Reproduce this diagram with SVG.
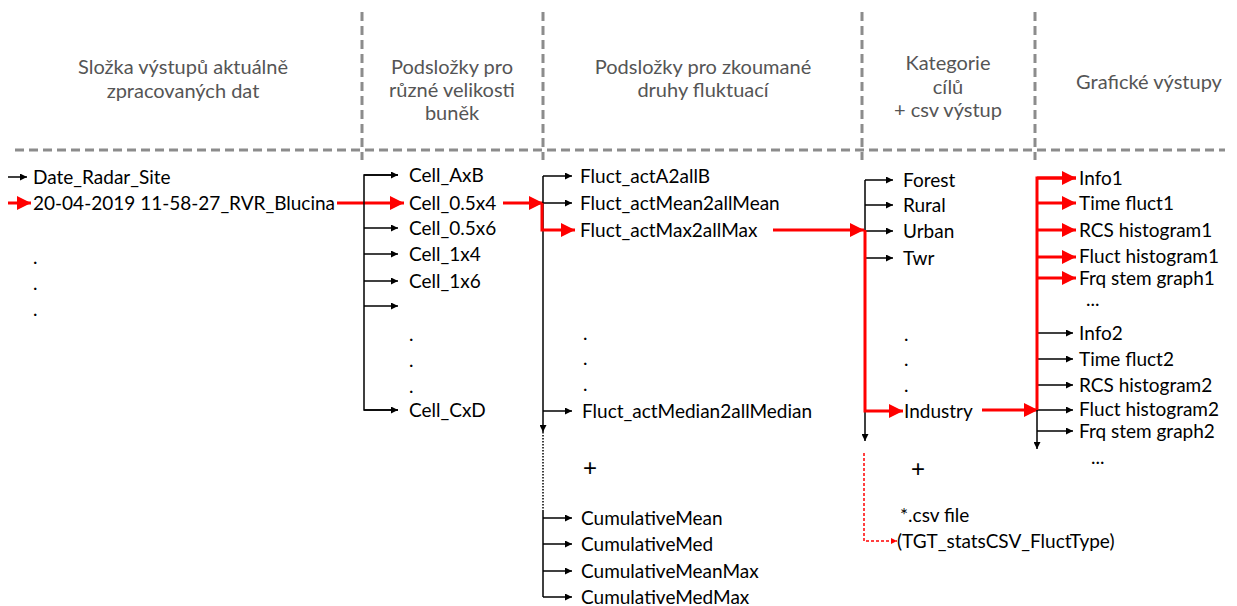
<svg xmlns="http://www.w3.org/2000/svg" width="1237" height="606" viewBox="0 0 1237 606">
  <style>
    .hdr { font-family: Lato, "Liberation Sans", sans-serif; font-size: 20px; fill: #555; text-anchor: middle; }
    .lbl { font-family: Lato, "Liberation Sans", sans-serif; font-size: 19px; fill: #000; }
    .plus { font-family: "Liberation Sans", sans-serif; font-size: 24px; fill: #000; }
    .grid { stroke: #8c8c8c; stroke-width: 3; stroke-dasharray: 9 5; fill: none; }
    .blk { stroke: #000; stroke-width: 1.5; fill: none; }
    .red { stroke: #ff0000; stroke-width: 3; fill: none; }
    .redthin { stroke: #ff0000; stroke-width: 1.5; fill: none; stroke-dasharray: 3 2; }
  </style>
  <defs>
    <marker id="ab" viewBox="0 0 10 10" refX="10" refY="5" markerWidth="8" markerHeight="7" markerUnits="userSpaceOnUse" orient="auto">
      <path d="M0,0 L10,5 L0,10 Z" fill="#000"/>
    </marker>
    <marker id="ar" viewBox="0 0 10 10" refX="10" refY="5" markerWidth="16" markerHeight="14" markerUnits="userSpaceOnUse" orient="auto">
      <path d="M0,0 L10,5 L0,10 Z" fill="#ff0000"/>
    </marker>
    <marker id="ars" viewBox="0 0 10 10" refX="10" refY="5" markerWidth="7" markerHeight="6" markerUnits="userSpaceOnUse" orient="auto">
      <path d="M0,0 L10,5 L0,10 Z" fill="#ff0000"/>
    </marker>
  </defs>

  <!-- column grid -->
  <g id="grid">
    <line class="grid" x1="15" y1="150" x2="1225" y2="150"/>
    <line class="grid" x1="362" y1="12" x2="362" y2="160"/>
    <line class="grid" x1="543" y1="12" x2="543" y2="160"/>
    <line class="grid" x1="862" y1="12" x2="862" y2="160"/>
    <line class="grid" x1="1035" y1="12" x2="1035" y2="160"/>
  </g>

  <!-- column headings -->
  <g id="headers">
    <text class="hdr" x="183" y="74">Složka výstupů aktuálně</text>
    <text class="hdr" x="183" y="98">zpracovaných dat</text>
    <text class="hdr" x="452" y="74">Podsložky pro</text>
    <text class="hdr" x="452" y="97">různé velikosti</text>
    <text class="hdr" x="452" y="120">buněk</text>
    <text class="hdr" x="703" y="74">Podsložky pro zkoumané</text>
    <text class="hdr" x="703" y="97">druhy fluktuací</text>
    <text class="hdr" x="948" y="70">Kategorie</text>
    <text class="hdr" x="948" y="94">cílů</text>
    <text class="hdr" x="948" y="117">+ csv výstup</text>
    <text class="hdr" x="1149" y="89">Grafické výstupy</text>
  </g>

  <!-- connectors -->
  <g id="connectors">
    <!-- root folders -->
    <line class="blk" x1="8" y1="177" x2="27" y2="177" marker-end="url(#ab)"/>
    <line class="red" x1="8" y1="203" x2="31" y2="203" marker-end="url(#ar)"/>
    <line class="red" x1="337" y1="203" x2="404" y2="203" marker-end="url(#ar)"/>

    <!-- cell size column -->
    <path class="blk" d="M398,175 H364 V410 H398"/>
    <line class="blk" x1="364" y1="175" x2="398" y2="175" marker-end="url(#ab)"/>
    <line class="blk" x1="364" y1="228" x2="398" y2="228" marker-end="url(#ab)"/>
    <line class="blk" x1="364" y1="254" x2="398" y2="254" marker-end="url(#ab)"/>
    <line class="blk" x1="364" y1="281" x2="398" y2="281" marker-end="url(#ab)"/>
    <line class="blk" x1="364" y1="306" x2="398" y2="306" marker-end="url(#ab)"/>
    <line class="blk" x1="364" y1="410" x2="398" y2="410" marker-end="url(#ab)"/>
    <line class="red" x1="503" y1="203" x2="543" y2="203" marker-end="url(#ar)"/>

    <!-- fluctuation type column -->
    <line class="blk" x1="543" y1="176" x2="543" y2="432" marker-end="url(#ab)"/>
    <line class="blk" x1="543" y1="432" x2="543" y2="510" stroke-dasharray="1.5 1.5"/>
    <path class="blk" d="M543,510 V597"/>
    <line class="blk" x1="543" y1="176" x2="572" y2="176" marker-end="url(#ab)"/>
    <line class="blk" x1="543" y1="203" x2="572" y2="203" marker-end="url(#ab)"/>
    <line class="blk" x1="543" y1="411" x2="572" y2="411" marker-end="url(#ab)"/>
    <line class="blk" x1="543" y1="518" x2="572" y2="518" marker-end="url(#ab)"/>
    <line class="blk" x1="543" y1="544" x2="572" y2="544" marker-end="url(#ab)"/>
    <line class="blk" x1="543" y1="571" x2="572" y2="571" marker-end="url(#ab)"/>
    <line class="blk" x1="543" y1="597" x2="572" y2="597" marker-end="url(#ab)"/>
    <polyline class="red" points="542,203 542,230 575,230" marker-end="url(#ar)"/>
    <line class="red" x1="773" y1="230" x2="864" y2="230" marker-end="url(#ar)"/>

    <!-- target category column -->
    <line class="blk" x1="865" y1="180" x2="865" y2="441" marker-end="url(#ab)"/>
    <line class="blk" x1="865" y1="180" x2="893" y2="180" marker-end="url(#ab)"/>
    <line class="blk" x1="865" y1="205" x2="893" y2="205" marker-end="url(#ab)"/>
    <line class="blk" x1="865" y1="231" x2="893" y2="231" marker-end="url(#ab)"/>
    <line class="blk" x1="865" y1="258" x2="893" y2="258" marker-end="url(#ab)"/>
    <polyline class="red" points="865,230 865,411 903,411" marker-end="url(#ar)"/>
    <line class="red" x1="982" y1="410" x2="1038" y2="410" marker-end="url(#ar)"/>
    <polyline class="redthin" points="864,453 864,541 897,541" marker-end="url(#ars)"/>

    <!-- graphical output column -->
    <line class="blk" x1="1037" y1="410" x2="1037" y2="449" marker-end="url(#ab)"/>
    <line class="blk" x1="1037" y1="333" x2="1073" y2="333" marker-end="url(#ab)"/>
    <line class="blk" x1="1037" y1="359" x2="1073" y2="359" marker-end="url(#ab)"/>
    <line class="blk" x1="1037" y1="385" x2="1073" y2="385" marker-end="url(#ab)"/>
    <line class="blk" x1="1037" y1="410" x2="1073" y2="410" marker-end="url(#ab)"/>
    <line class="blk" x1="1037" y1="431" x2="1073" y2="431" marker-end="url(#ab)"/>
    <polyline class="red" points="1076,178 1037,178 1037,410"/>
    <line class="red" x1="1037" y1="178" x2="1076" y2="178" marker-end="url(#ar)"/>
    <line class="red" x1="1037" y1="203" x2="1076" y2="203" marker-end="url(#ar)"/>
    <line class="red" x1="1037" y1="230" x2="1076" y2="230" marker-end="url(#ar)"/>
    <line class="red" x1="1037" y1="257" x2="1076" y2="257" marker-end="url(#ar)"/>
    <line class="red" x1="1037" y1="278" x2="1076" y2="278" marker-end="url(#ar)"/>
  </g>

  <!-- root folders -->
  <g id="root">
    <text class="lbl" x="33" y="184">Date_Radar_Site</text>
    <text class="lbl" x="33" y="210">20-04-2019 11-58-27_RVR_Blucina</text>
    <text class="lbl" x="33" y="264">.</text>
    <text class="lbl" x="33" y="290">.</text>
    <text class="lbl" x="33" y="316">.</text>
  </g>

  <g id="cells">
    <text class="lbl" x="409" y="182">Cell_AxB</text>
    <text class="lbl" x="409" y="210">Cell_0.5x4</text>
    <text class="lbl" x="409" y="235">Cell_0.5x6</text>
    <text class="lbl" x="409" y="261">Cell_1x4</text>
    <text class="lbl" x="409" y="288">Cell_1x6</text>
    <text class="lbl" x="409" y="341">.</text>
    <text class="lbl" x="409" y="367">.</text>
    <text class="lbl" x="409" y="393">.</text>
    <text class="lbl" x="409" y="417">Cell_CxD</text>
  </g>

  <g id="fluct">
    <text class="lbl" x="580" y="183">Fluct_actA2allB</text>
    <text class="lbl" x="580" y="210">Fluct_actMean2allMean</text>
    <text class="lbl" x="580" y="237">Fluct_actMax2allMax</text>
    <text class="lbl" x="583" y="340">.</text>
    <text class="lbl" x="583" y="365">.</text>
    <text class="lbl" x="583" y="391">.</text>
    <text class="lbl" x="582" y="418">Fluct_actMedian2allMedian</text>
    <text class="plus" x="583" y="476">+</text>
    <text class="lbl" x="581" y="525">CumulativeMean</text>
    <text class="lbl" x="581" y="551">CumulativeMed</text>
    <text class="lbl" x="581" y="578">CumulativeMeanMax</text>
    <text class="lbl" x="581" y="604">CumulativeMedMax</text>
  </g>

  <g id="categories">
    <text class="lbl" x="903" y="187">Forest</text>
    <text class="lbl" x="903" y="212">Rural</text>
    <text class="lbl" x="903" y="238">Urban</text>
    <text class="lbl" x="903" y="265">Twr</text>
    <text class="lbl" x="904" y="341">.</text>
    <text class="lbl" x="904" y="366">.</text>
    <text class="lbl" x="904" y="392">.</text>
    <text class="lbl" x="904" y="418">Industry</text>
    <text class="plus" x="911" y="477">+</text>
    <text class="lbl" x="900" y="522">*.csv file</text>
    <text class="lbl" x="897" y="548">(TGT_statsCSV_FluctType)</text>
  </g>

  <g id="outputs">
    <text class="lbl" x="1079" y="185">Info1</text>
    <text class="lbl" x="1079" y="210">Time fluct1</text>
    <text class="lbl" x="1079" y="237">RCS histogram1</text>
    <text class="lbl" x="1079" y="263">Fluct histogram1</text>
    <text class="lbl" x="1079" y="285">Frq stem graph1</text>
    <text class="lbl" x="1086" y="306">...</text>
    <text class="lbl" x="1079" y="340">Info2</text>
    <text class="lbl" x="1079" y="366">Time fluct2</text>
    <text class="lbl" x="1079" y="392">RCS histogram2</text>
    <text class="lbl" x="1079" y="416">Fluct histogram2</text>
    <text class="lbl" x="1079" y="438">Frq stem graph2</text>
    <text class="lbl" x="1091" y="464">...</text>
  </g>
</svg>
